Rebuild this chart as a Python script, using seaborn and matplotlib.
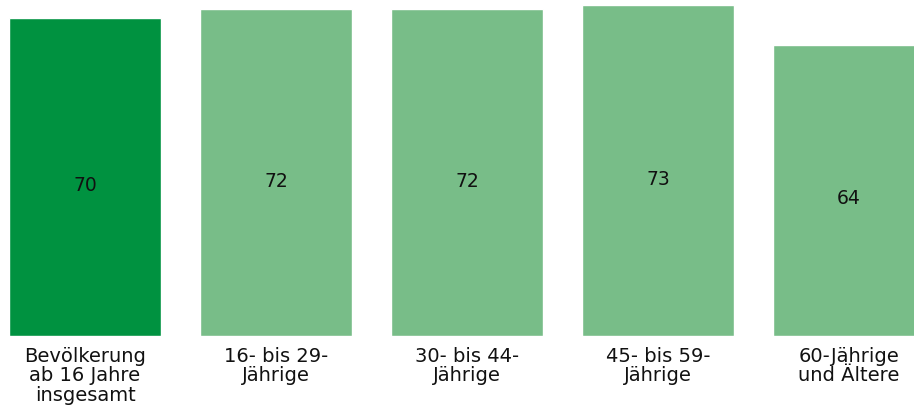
import seaborn as sns
import pandas as pd
import matplotlib.pyplot as plt

sns.set_theme(style="white")
plt.rcParams['font.family'] = ['DejaVu Sans']

categories = ["Bevölkerung\nab 16 Jahre\ninsgesamt", "16- bis 29-\nJährige",
              "30- bis 44-\nJährige", "45- bis 59-\nJährige", "60-Jährige\nund Ältere"]
values = [70, 72, 72, 73, 64]
colors = ["#009240", "#78bd88", "#78bd88", "#78bd88", "#78bd88"]

df = pd.DataFrame({"group": categories, "value": values})

fig = plt.figure(figsize=(9.14, 4.12), dpi=100)
ax = fig.add_axes([0, 76 / 412, 1, 336 / 412])

sns.barplot(data=df, x="group", y="value", hue="group", palette=colors,
            width=0.8, saturation=1, legend=False, ax=ax)

for i, v in enumerate(values):
    ax.text(i, v * 0.473, str(v), ha="center", va="center", fontsize=13.5, color="#111111")

ax.set_xlim(-85 / 191, (914 - 85) / 191)
ax.set_ylim(0, 74)
ax.set_xlabel("")
ax.set_ylabel("")
ax.set_yticks([])
ax.tick_params(axis="x", length=0, pad=8, labelsize=14, colors="#111111")
for lbl in ax.get_xticklabels():
    lbl.set_linespacing(1.02)
sns.despine(left=True, bottom=True)

plt.savefig("out.png", dpi=100)
